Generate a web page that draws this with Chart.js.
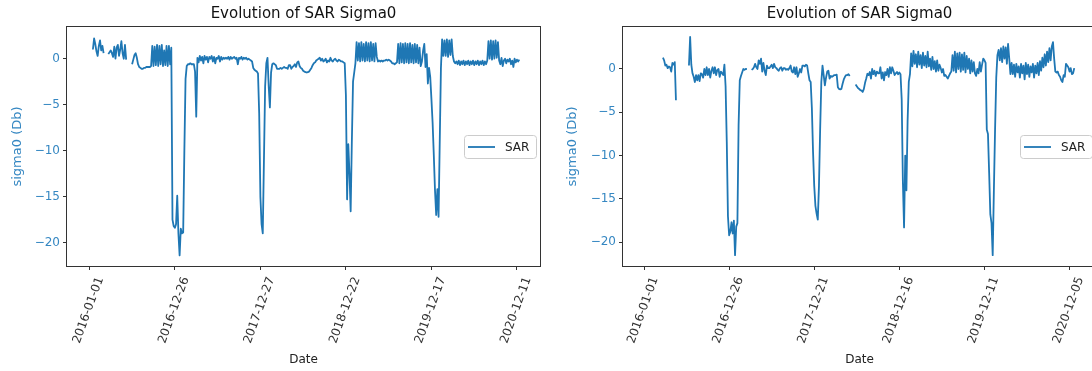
<!DOCTYPE html>
<html>
<head>
<meta charset="utf-8">
<script src="https://cdn.jsdelivr.net/npm/chart.js@4.4.1/dist/chart.umd.min.js"></script>
<style>
  html, body { margin: 0; padding: 0; background: #fff; overflow: hidden; }
  #wrap { position: relative; width: 1092px; height: 371px; overflow: hidden; }
  .panel { position: absolute; top: 0; height: 371px; }
  #leftPanel { left: 0; width: 550px; }
  #rightPanel { left: 550px; width: 556px; }
</style>
</head>
<body>
<div id="wrap">
  <div class="panel" id="leftPanel"><canvas id="chartLeft"></canvas></div>
  <div class="panel" id="rightPanel"><canvas id="chartRight"></canvas></div>
</div>
<script>
// one value every DAY_STEP rows of the daily index, null where there is no acquisition
const DAY_STEP = 5;
const TITLE = "Evolution of SAR Sigma0";
const SERIES_LABEL = "SAR";
const TICK_POSITIONS = [0, 360, 720, 1080, 1440, 1800];
const LEFT_TICK_LABELS = ["2016-01-01", "2016-12-26", "2017-12-27", "2018-12-22", "2019-12-17", "2020-12-11"];
const RIGHT_TICK_LABELS = ["2016-01-01", "2016-12-26", "2017-12-21", "2018-12-16", "2019-12-11", "2020-12-05"];
const Y_TICKS = [-20, -15, -10, -5, 0];

const LEFT_SIGMA0 = [
  null, null, null, 1.0, 2.2, 1.6, 0.8, 0.3, 1.4, 2.0, 0.9, 1.4, 0.6, null, null, null, 0.5, 0.7, 0.9, 0.6,
  0.2, 1.3, 0.0, 1.2, 1.5, 0.3, 1.0, 1.9, 0.6, 0.0, 1.5, -0.1, null, null, null, null, -0.6, -0.1, 0.4, 0.6,
  0.1, -0.6, -0.9, -1.0, -1.1, -1.1, -1.0, -1.0, -0.9, -0.9, -0.9, -0.9, -0.8, 1.4, -0.8, 1.3, -0.7, 1.5, -0.8, 1.4,
  -0.6, 1.5, -0.8, 0.9, -0.7, 1.4, -0.8, 1.4, -0.6, 1.2, -17.5, -18.2, -18.4, -18.0, -14.9, -19.0, -21.4, -18.5, -19.0, -18.9,
  -10.0, -2.2, -0.8, -0.6, -0.6, -0.5, -0.6, -0.6, -0.6, -1.4, -6.3, 0.1, -0.4, 0.3, -0.2, 0.2, -0.5, 0.3, -0.1, 0.2,
  -0.4, 0.2, 0.0, 0.3, -0.3, 0.2, -0.5, 0.1, 0.0, 0.3, -0.3, 0.2, -0.1, 0.1, 0.0, 0.1, 0.0, 0.2, -0.1, 0.2,
  0.0, 0.1, 0.2, 0.0, 0.1, -0.6, 0.1, 0.0, 0.2, -0.1, 0.1, 0.0, 0.1, -0.1, 0.0, -0.1, -0.2, -0.3, -1.0, -1.2,
  -1.3, -1.4, -1.6, -6.0, -15.0, -18.0, -19.0, -11.0, -3.0, -0.5, 0.1, -3.0, -5.3, -1.5, -0.6, -0.5, -0.6, -0.7, -1.1, -1.1,
  -1.1, -1.0, -1.1, -1.0, -0.9, -1.0, -1.0, -1.1, -0.7, -0.7, -1.1, -0.9, -0.8, -0.6, -0.9, -0.4, -0.3, -0.8, -1.0, -1.1,
  -1.3, -1.4, -1.45, -1.5, -1.45, -1.4, -1.2, -1.0, -0.7, -0.5, -0.4, -0.2, -0.1, 0.0, 0.1, -0.2, 0.0, -0.3, -0.2, 0.0,
  -0.4, -0.2, -0.3, 0.1, -0.2, -0.3, -0.1, 0.0, -0.2, -0.3, -0.1, -0.2, -0.3, -0.3, -0.4, -0.5, -4.0, -15.3, -9.3, -12.5,
  -16.6, -9.0, -2.5, -1.5, -0.5, 1.8, -0.2, 1.7, -0.3, 1.8, -0.2, 1.6, -0.3, 1.8, -0.2, 1.7, -0.3, 1.8, -0.2, 1.6,
  -0.3, 1.7, 0.2, -0.3, -0.2, -0.3, -0.2, -0.3, -0.2, -0.2, -0.1, -0.2, -0.1, -0.2, -0.3, -0.5, -0.5, -0.6, -0.5, -0.4,
  1.6, -0.5, 1.7, -0.4, 1.6, -0.5, 1.7, -0.4, 1.6, -0.5, 1.7, -0.4, 1.5, -0.5, 1.6, -0.4, 1.5, -0.5, 1.2, -0.8,
  -0.3, 0.9, 1.6, -0.9, 0.5, -2.7, -1.0, -2.0, -4.4, -7.0, -10.5, -14.3, -17.0, -14.2, -17.2, -9.0, -1.0, 2.1, 0.3, 2.0,
  0.3, 2.1, 0.2, 2.0, 0.4, 2.1, 0.3, -0.3, -0.5, -0.3, -0.6, -0.2, -0.7, -0.3, -0.6, -0.2, -0.7, -0.3, -0.6, -0.2,
  -0.7, -0.3, -0.6, -0.2, -0.7, -0.3, -0.6, -0.2, -0.7, -0.3, -0.6, -0.2, -0.7, -0.3, -0.6, -0.2, 1.9, 0.0, 2.0, -0.1,
  1.9, 0.0, 2.0, 0.1, 1.8, -0.2, -0.6, 0.1, -0.8, -0.2, 0.0, -0.5, -0.1, -0.3, 0.0, -0.6, -0.2, -0.9, 0.0, -0.4,
  -0.1, -0.3, -0.1
];

const RIGHT_SIGMA0 = [
  null, null, null, null, null, null, null, null, null, null, null, null, null, null, null, null, 1.3, 1.0, 0.4, 0.5,
  0.1, 0.3, 0.2, -0.3, 0.7, 0.5, 0.8, -3.6, null, null, null, null, null, null, null, null, null, null, 0.4, 3.7,
  0.5, -0.5, -0.9, -1.5, -0.7, -1.3, -0.7, -1.4, -0.5, -0.6, -1.0, 0.0, -0.7, 0.2, -0.7, 0.0, -1.0, -0.2, 0.2, -0.5,
  0.2, -0.7, -0.1, 0.0, -0.9, -0.3, -0.5, -0.7, 0.5, -2.0, -8.4, -17.0, -19.2, -18.8, -17.7, -19.0, -17.5, -21.5, -18.2, -17.8,
  -6.5, -1.3, -0.8, -0.4, 0.0, -0.1, 0.0, 0.0, null, null, null, -0.1, 0.0, 0.2, 0.6, 0.2, 0.0, 1.0, 0.6, 1.2,
  -0.3, 0.7, -0.2, -0.7, 0.4, 0.1, 0.1, 0.3, 0.5, 0.1, 0.6, 0.2, 0.1, -0.1, -0.2, 0.1, 0.2, -0.2, 0.1, 0.1,
  -0.1, 0.0, -0.1, 0.1, 0.4, -0.3, -0.4, 0.2, -0.6, 0.2, -0.9, -0.5, 0.0, -0.4, 0.4, 0.4, 0.3, 0.5, 0.4, -0.5,
  -1.3, -1.5, -4.5, -9.6, -13.5, -15.8, -16.7, -17.4, -13.5, -7.0, -1.5, 0.4, -0.7, -1.9, -1.0, -0.3, -0.2, -1.1, -0.8, -0.9,
  -0.8, -0.7, -0.7, -0.65, -2.1, -2.3, -2.35, -2.3, -1.7, -1.2, -0.9, -0.7, -0.7, -0.6, -0.8, null, null, null, null, -1.8,
  -2.0, -2.2, -2.3, -2.45, -2.5, -2.65, -2.3, -1.6, -1.1, -0.55, -0.7, -0.35, -1.1, 0.0, -0.6, -0.2, -0.8, -0.3, -0.5, -0.5,
  0.2, -1.1, -0.4, -1.3, -0.35, -0.7, 0.0, -0.9, 0.2, -0.5, 0.2, -0.2, -0.7, -0.5, -0.35, -0.6, -0.4, -0.6, -3.5, -13.0,
  -18.3, -10.0, -14.0, -6.0, -1.5, -0.6, 1.8, 0.3, 2.1, 0.6, 1.7, 0.2, 2.0, 0.5, 1.6, 0.1, 1.9, 0.4, 1.5, 0.2,
  2.0, 0.3, 1.2, -0.1, 1.4, 0.0, 0.9, -0.3, 1.0, -0.2, 0.5, 0.1, -0.4, 0.0, -0.8, -0.7, -0.9, -1.1, -0.8, -0.5,
  -0.3, 1.6, -0.2, 2.0, -0.4, 1.8, 0.0, 1.9, -0.3, 1.7, -0.1, 1.9, -0.4, 1.5, 0.0, 1.2, -0.5, 1.0, -0.3, 0.8,
  -0.5, -0.8, 0.0, -0.5, 0.8, -0.3, 0.5, 1.2, 1.0, 0.7, -7.0, -7.5, -12.0, -16.8, -17.8, -21.5, -14.0, -7.0, -1.0, 1.6,
  2.2, 1.0, 2.4, 0.8, 2.6, 1.2, 2.5, 0.6, 2.9, 1.2, -0.6, 0.7, -0.6, 0.5, -0.9, 0.6, -0.4, 0.3, -1.0, 0.6,
  -0.5, 0.4, -1.2, 0.7, -0.6, 0.5, -0.9, 0.3, -0.4, 0.6, -1.0, 0.4, -0.5, 0.7, -0.7, 0.9, -0.2, 1.3, 0.2, 1.7,
  0.4, 2.0, 0.8, 2.4, 1.0, 2.6, 3.1, 1.2, -0.3, -0.4, -0.3, -0.7, -0.9, -1.3, -1.5, -0.7, -0.9, 0.6, 0.4, 0.2,
  -0.3, 0.1, -0.6, -0.5, 0.1
];

const LINE_COLOR = "#1f77b4";
const LABEL_BLUE = "#3587c2";
const FONT = "DejaVu Sans";
Chart.defaults.font.family = FONT;

function toPoints(values) {
  return values.map((v, i) => ({ x: i * DAY_STEP, y: v }));
}

function minusSign(v) {
  return String(v).replace("-", "\u2212");
}

// box around the axes, title over the plot and the legend at center right
const axesDecor = {
  id: "axesDecor",
  afterDatasetsDraw(chart) {
    const { ctx, chartArea: a } = chart;
    ctx.save();
    ctx.strokeStyle = "#333";
    ctx.lineWidth = 1;
    ctx.strokeRect(Math.round(a.left) - 0.5, Math.round(a.top) - 0.5,
      Math.round(a.right - a.left) + 1, Math.round(a.bottom - a.top) + 1);

    ctx.fillStyle = "#111";
    ctx.font = `15px "${FONT}"`;
    ctx.textAlign = "center";
    ctx.textBaseline = "middle";
    ctx.fillText(TITLE, (a.left + a.right) / 2, 14);

    const w = 72, h = 23;
    const x = a.right - 4 - w;
    const y = (a.top + a.bottom) / 2 - h / 2;
    ctx.beginPath();
    ctx.roundRect(x + 0.5, y + 0.5, w, h, 3);
    ctx.fillStyle = "rgba(255,255,255,0.8)";
    ctx.fill();
    ctx.strokeStyle = "#cccccc";
    ctx.stroke();
    const ds = chart.data.datasets[0];
    ctx.beginPath();
    ctx.moveTo(x + 4, y + h / 2 + 0.5);
    ctx.lineTo(x + 31, y + h / 2 + 0.5);
    ctx.strokeStyle = ds.borderColor;
    ctx.lineWidth = 1.8;
    ctx.stroke();
    ctx.fillStyle = "#222";
    ctx.font = `12px "${FONT}"`;
    ctx.textAlign = "left";
    ctx.fillText(ds.label, x + 41, y + h / 2 + 1);
    ctx.restore();
  }
};

function makeChart(canvasId, values, tickLabels, xRange, yRange, axisWidth, yTitlePad) {
  return new Chart(document.getElementById(canvasId), {
    type: "line",
    data: {
      datasets: [{
        label: SERIES_LABEL,
        data: toPoints(values),
        borderColor: LINE_COLOR,
        borderWidth: 1.8,
        borderJoinStyle: "round",
        pointRadius: 0,
        tension: 0,
        spanGaps: false,
      }],
    },
    options: {
      responsive: true,
      maintainAspectRatio: false,
      animation: false,
      layout: { padding: { top: 27, right: 10, left: 0, bottom: 0 } },
      plugins: { legend: { display: false }, tooltip: { enabled: false } },
      scales: {
        x: {
          type: "linear",
          min: xRange[0],
          max: xRange[1],
          afterBuildTicks: (s) => { s.ticks = TICK_POSITIONS.map((v) => ({ value: v })); },
          afterFit: (s) => { s.height = 105; },
          ticks: {
            autoSkip: false,
            minRotation: 70,
            maxRotation: 70,
            labelOffset: 11,
            padding: 5,
            color: "#333",
            font: { size: 12 },
            callback: (v, i) => tickLabels[i],
          },
          grid: { drawOnChartArea: false, tickLength: 4, color: "#333" },
          border: { display: false },
          title: { display: true, text: "Date", color: "#222", font: { size: 12 }, padding: { top: 0, bottom: 4 } },
        },
        y: {
          min: yRange[0],
          max: yRange[1],
          afterBuildTicks: (s) => { s.ticks = Y_TICKS.map((v) => ({ value: v })); },
          afterFit: (s) => { s.width = axisWidth; },
          ticks: { color: LABEL_BLUE, font: { size: 12 }, padding: 3, callback: (v) => minusSign(v) },
          grid: { drawOnChartArea: false, tickLength: 4, color: "#333" },
          border: { display: false },
          title: { display: true, text: "sigma0 (Db)", color: LABEL_BLUE, font: { size: 13 }, padding: { top: yTitlePad, bottom: 0 } },
        },
      },
    },
    plugins: [axesDecor],
  });
}

makeChart("chartLeft", LEFT_SIGMA0, LEFT_TICK_LABELS, [-94, 1897], [-22.55, 3.45], 67, 10);
makeChart("chartRight", RIGHT_SIGMA0, RIGHT_TICK_LABELS, [-89, 1912], [-22.75, 4.85], 73, 15);
</script>
</body>
</html>
